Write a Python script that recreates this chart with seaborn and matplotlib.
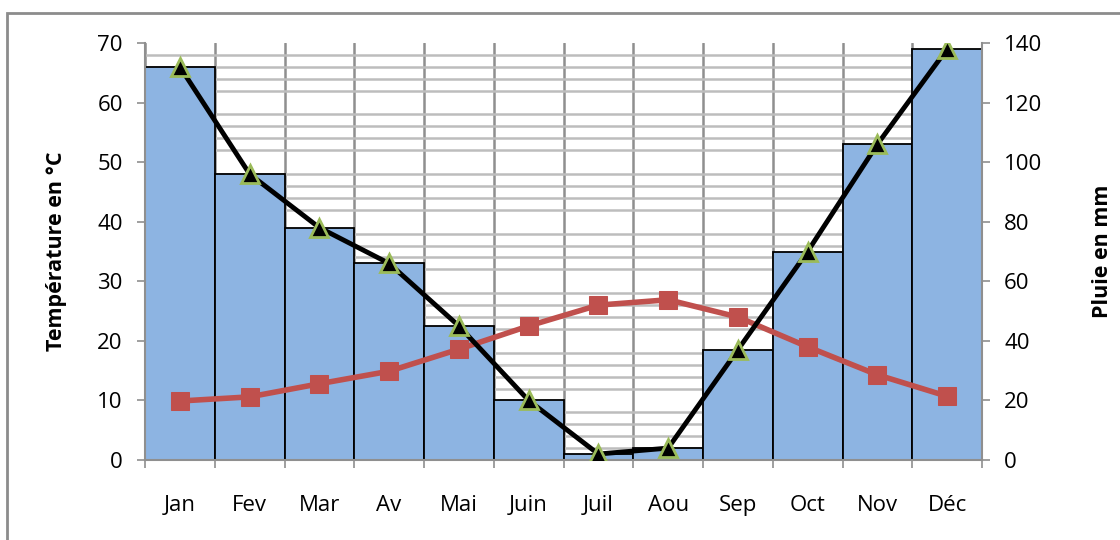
import matplotlib
matplotlib.use("Agg")
import matplotlib.pyplot as plt
import matplotlib.patches as mpatches
from matplotlib.ticker import MultipleLocator, FixedLocator
import seaborn as sns
import pandas as pd

months = ["Jan", "Fev", "Mar", "Av", "Mai", "Juin", "Juil", "Aou", "Sep", "Oct", "Nov", "Déc"]
pluie = [132, 96, 78, 66, 45, 20, 2, 4, 37, 70, 106, 138]
temperature = [9.9, 10.6, 12.8, 14.9, 18.6, 22.5, 26.0, 26.9, 24.0, 19.0, 14.3, 10.7]

df = pd.DataFrame({"mois": months, "pluie": pluie, "temp": temperature, "x": range(len(months))})

sns.set_style("white")
plt.rcParams["font.family"] = ["Open Sans", "DejaVu Sans"]
plt.rcParams["text.color"] = "black"
plt.rcParams["axes.labelcolor"] = "black"
plt.rcParams["xtick.labelcolor"] = "black"
plt.rcParams["ytick.labelcolor"] = "black"

fig = plt.figure(figsize=(11.2, 5.4), dpi=100)
# cadre du graphique (coupé à droite/en bas comme la référence)
fig.patches.append(mpatches.Rectangle((7 / 1120, -0.05), 1.2, 1 - 13 / 540 + 0.05,
                                      transform=fig.transFigure, fill=False,
                                      edgecolor="#8c8c8c", linewidth=2))

pos = [145 / 1120, 1 - 460 / 540, (982 - 145) / 1120, (460 - 43) / 540]
ax_rain = fig.add_axes(pos)
ax_temp = ax_rain.twinx()
ax_top = ax_rain.twinx()

# barres (pluie)
sns.barplot(data=df, x="mois", y="pluie", ax=ax_rain, color="#8DB4E2", width=1.0,
            edgecolor="black", linewidth=1.3, saturation=1, zorder=2)
ax_rain.set_ylim(0, 140)
ax_rain.yaxis.set_major_locator(MultipleLocator(20))
ax_rain.yaxis.set_minor_locator(MultipleLocator(4))
ax_rain.xaxis.set_minor_locator(FixedLocator([i - 0.5 for i in range(len(months) + 1)]))
ax_rain.grid(which="minor", axis="y", color="#bdbdbd", linewidth=1.8, zorder=0)
ax_rain.grid(which="minor", axis="x", color="#8f8f8f", linewidth=1.8, zorder=0)
ax_rain.set_axisbelow(True)
ax_rain.yaxis.tick_right()
ax_rain.yaxis.set_label_position("right")
ax_rain.tick_params(axis="y", which="major", direction="out", length=6, width=1.2,
                    color="#8f8f8f", labelsize=16, pad=10, right=True, left=False)
ax_rain.tick_params(axis="y", which="minor", length=0)
ax_rain.tick_params(axis="x", which="major", length=0, labelsize=16, pad=25)
ax_rain.tick_params(axis="x", which="minor", direction="out", length=6, width=1.2,
                    color="#8f8f8f", bottom=True)
ax_rain.set_xlabel("")
ax_rain.set_ylabel("Pluie en mm", fontsize=15.5, fontweight="bold", labelpad=36)

# température
sns.lineplot(data=df, x="x", y="temp", ax=ax_temp, color="#C0504D", linewidth=4,
             marker="s", markersize=13, markeredgecolor="#C0504D", zorder=3)
ax_temp.set_ylim(0, 70)
ax_temp.yaxis.set_major_locator(MultipleLocator(10))
ax_temp.yaxis.tick_left()
ax_temp.yaxis.set_label_position("left")
ax_temp.tick_params(axis="y", direction="out", length=6, width=1.2, color="#8f8f8f",
                    labelsize=16, pad=10, left=True, right=False)
ax_temp.set_ylabel("Température en °C", fontsize=15.5, fontweight="bold", labelpad=22)
ax_temp.set_xlabel("")

# courbe pluie avec triangles, au-dessus
sns.lineplot(data=df, x="x", y="pluie", ax=ax_top, color="black", linewidth=3.5,
             marker="^", markersize=13, markeredgecolor="#9BBB59", markeredgewidth=2, zorder=4)
ax_top.set_ylim(0, 140)
ax_top.set_yticks([])
ax_top.set_ylabel("")
ax_top.set_xlabel("")
ax_top.tick_params(right=False, labelright=False)

for a in (ax_rain, ax_temp, ax_top):
    a.set_xlim(-0.5, len(months) - 0.5)
    for s in a.spines.values():
        s.set_visible(False)

ax_temp.spines["left"].set_visible(True)
ax_temp.spines["left"].set_color("#8f8f8f")
ax_temp.spines["left"].set_linewidth(1.5)
for side in ("right", "bottom"):
    ax_rain.spines[side].set_visible(True)
    ax_rain.spines[side].set_color("#8f8f8f")
    ax_rain.spines[side].set_linewidth(1.5)

fig.savefig("out.png", dpi=100)
